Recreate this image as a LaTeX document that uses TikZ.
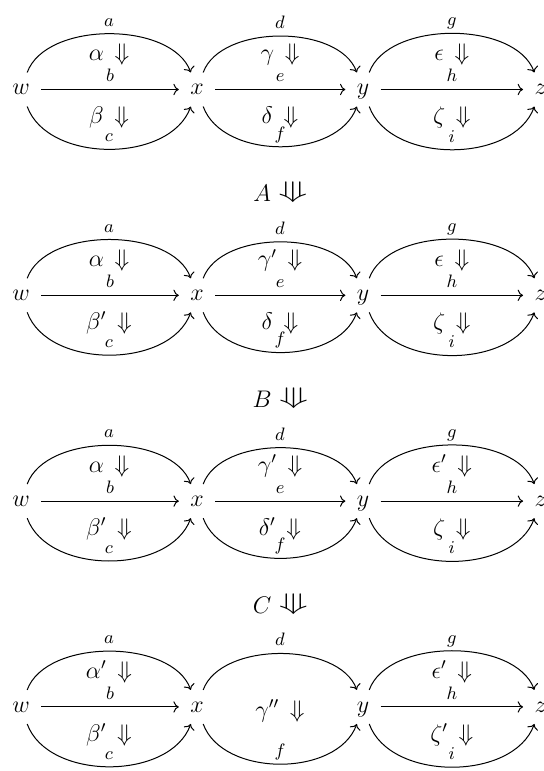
\documentclass[tikz,border=0pt]{standalone}
\usepackage{amsmath, amssymb, graphicx}
\usepackage{tikz}
\usetikzlibrary{calc, arrows.meta}

\newcommand{\stepdown}{\rotatebox[origin=c]{-90}{\scalebox{1}[1.5]{$\Rrightarrow$}}}

\begin{document}
\begin{tikzpicture}[>={Computer Modern Rightarrow}, line width=0.5pt, font=\fontsize{12}{14}\selectfont,
  obj/.style={inner xsep=5.5pt, inner ysep=4.5pt, text height=1.5ex, text depth=0.25ex},
  lbl/.style={font=\fontsize{9}{10}\selectfont, inner sep=0pt, anchor=base, yshift=3.8pt},
  up/.style={bend left=70, looseness=0.86},
  down/.style={bend right=70, looseness=0.95},
  cell/.style={inner sep=0pt}]
  \useasboundingbox (0,0) rectangle (9.543,-13.55);
  % objects and 1-cells, one row per stage
  \foreach \r/\yy in {1/-1.573, 2/-5.190, 3/-8.807, 4/-12.424} {
    \node[obj] (w\r) at (0.369,\yy) {$w$};
    \node[obj] (x\r) at (3.462,\yy) {$x$};
    \node[obj] (y\r) at (6.380,\yy) {$y$};
    \node[obj] (z\r) at (9.500,\yy) {$z$};
    \draw[->] (w\r) to[up] node[lbl] (a\r) {$a$} (x\r);
    \draw[->] (w\r) -- node[lbl] (b\r) {$b$} (x\r);
    \draw[->] (w\r) to[down] node[lbl] (c\r) {$c$} (x\r);
    \draw[->] (x\r) to[up] node[lbl] (d\r) {$d$} (y\r);
    \ifnum\r<4
      \draw[->] (x\r) -- node[lbl] (e\r) {$e$} (y\r);
    \fi
    \draw[->] (x\r) to[down] node[lbl] (f\r) {$f$} (y\r);
    \draw[->] (y\r) to[up] node[lbl] (g\r) {$g$} (z\r);
    \draw[->] (y\r) -- node[lbl] (h\r) {$h$} (z\r);
    \draw[->] (y\r) to[down] node[lbl] (i\r) {$i$} (z\r);
  }
  % 2-cells
  \foreach \r/\al/\be/\ga/\de/\ep/\ze in {1/\alpha/\beta/\gamma/\delta/\epsilon/\zeta,
      2/\alpha/\beta'/\gamma'/\delta/\epsilon/\zeta,
      3/\alpha/\beta'/\gamma'/\delta'/\epsilon'/\zeta,
      4/\alpha'/\beta'/\gamma''/\delta/\epsilon'/\zeta'} {
    \node[cell] (al\r) at ($(w\r)!0.5!(x\r)+(0,0.615)$) {$\al\,\Downarrow$};
    \node[cell] (be\r) at ($(w\r)!0.5!(x\r)+(0,-0.49)$) {$\be\,\Downarrow$};
    \ifnum\r<4
      \node[cell] (ga\r) at ($(x\r)!0.5!(y\r)+(0,0.615)$) {$\ga\,\Downarrow$};
      \node[cell] (de\r) at ($(x\r)!0.5!(y\r)+(0,-0.49)$) {$\de\,\Downarrow$};
    \else
      \node[cell] (ga\r) at ($(x\r)!0.5!(y\r)+(0,-0.07)$) {$\ga\,\Downarrow$};
    \fi
    \node[cell] (ep\r) at ($(y\r)!0.5!(z\r)+(0,0.615)$) {$\ep\,\Downarrow$};
    \node[cell] (ze\r) at ($(y\r)!0.5!(z\r)+(0,-0.49)$) {$\ze\,\Downarrow$};
  }
  % 3-cells between the rows
  \foreach \r/\t in {1/A, 2/B, 3/C}
    \node[cell] (mv\r) at ($(x\r)!0.5!(y\r)+(0,-1.81)$) {$\t\hspace{4pt}\stepdown$};
\end{tikzpicture}
\end{document}
